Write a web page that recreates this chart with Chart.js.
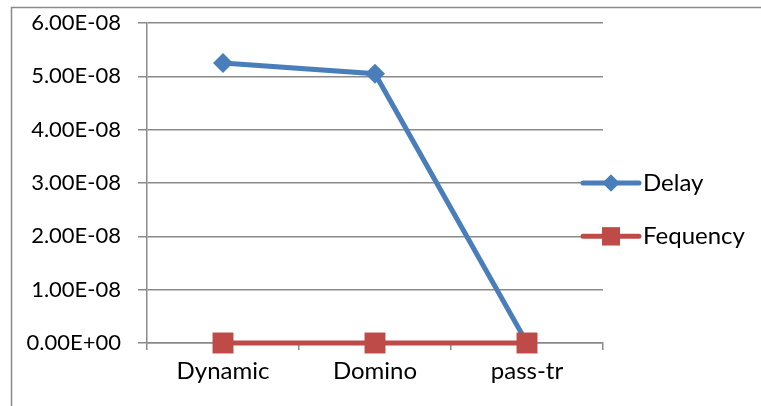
<!DOCTYPE html>
<html>
<head>
<meta charset="utf-8">
<script src="https://cdn.jsdelivr.net/npm/chart.js@4/dist/chart.umd.min.js"></script>
<style>
  html, body { margin: 0; padding: 0; background: #ffffff; }
  #wrap { width: 761px; height: 406px; position: relative; }
</style>
</head>
<body>
<div id="wrap"><canvas id="c" width="761" height="406"></canvas></div>
<script>
// Circuit styles compared
const categories = ['Dynamic', 'Domino', 'pass-tr'];
// Delay in seconds
const delayValues = [5.25e-8, 5.05e-8, 0];
// Frequency series (plotted on the same axis, sits on zero)
const frequencyValues = [0, 0, 0];
// Value-axis labels, bottom to top
const yTickLabels = ['0.00E+00', '1.00E-08', '2.00E-08', '3.00E-08', '4.00E-08', '5.00E-08', '6.00E-08'];
const seriesNames = ['Delay', 'Fequency'];

const FONT = 'Lato, "Open Sans", "Liberation Sans", sans-serif';
const GRID = '#8a8a8a';
const BLUE = '#4a7ebb';
const RED = '#be4b48';

// Frame lines around the chart object plus a line-and-marker legend
const framePlugin = {
  id: 'frame',
  beforeDraw(chart) {
    const ctx = chart.ctx;
    ctx.save();
    ctx.strokeStyle = GRID;
    ctx.lineWidth = 1.5;
    ctx.beginPath();
    ctx.moveTo(11.5, 406);
    ctx.lineTo(11.5, 7.5);
    ctx.lineTo(761, 7.5);
    ctx.stroke();
    ctx.restore();
  },
  afterDraw(chart) {
    const ctx = chart.ctx;
    const y = chart.scales.y;
    const rows = [y.getPixelForValue(3e-8), y.getPixelForValue(2e-8)];
    ctx.save();
    chart.data.datasets.forEach((ds, i) => {
      const cy = rows[i];
      const x0 = 583, x1 = 639, cx = (x0 + x1) / 2;
      ctx.strokeStyle = ds.borderColor;
      ctx.lineWidth = 5;
      ctx.lineCap = 'round';
      ctx.beginPath();
      ctx.moveTo(x0, cy);
      ctx.lineTo(x1, cy);
      ctx.stroke();
      ctx.fillStyle = ds.borderColor;
      Chart.helpers.drawPoint(ctx, {
        pointStyle: ds.pointStyle,
        radius: ds.pointStyle === 'rect' ? 12.7 : 8.5,
        rotation: 0,
        borderWidth: 0
      }, cx, cy);
      ctx.fill();
      ctx.fillStyle = '#000000';
      ctx.font = '24px ' + FONT;
      ctx.textBaseline = 'middle';
      ctx.textAlign = 'left';
      ctx.fillText(ds.label, 643, cy);
    });
    ctx.restore();
  }
};

new Chart(document.getElementById('c'), {
  type: 'line',
  data: {
    labels: categories,
    datasets: [
      {
        label: seriesNames[0],
        data: delayValues,
        borderColor: BLUE,
        backgroundColor: BLUE,
        borderWidth: 5,
        pointStyle: 'rectRot',
        pointRadius: 10,
        pointHoverRadius: 10,
        pointBorderWidth: 0,
        tension: 0,
        clip: false,
        order: 2
      },
      {
        label: seriesNames[1],
        data: frequencyValues,
        borderColor: RED,
        backgroundColor: RED,
        borderWidth: 5,
        pointStyle: 'rect',
        pointRadius: 14.8,
        pointHoverRadius: 14.8,
        pointBorderWidth: 0,
        tension: 0,
        clip: false,
        order: 1
      }
    ]
  },
  options: {
    responsive: false,
    animation: false,
    layout: { padding: { top: 23, right: 158, left: 0, bottom: 0 } },
    plugins: {
      legend: { display: false },
      tooltip: { enabled: false }
    },
    scales: {
      x: {
        offset: true,
        grid: {
          offset: true,
          drawOnChartArea: false,
          drawTicks: true,
          tickLength: 7,
          color: GRID,
          lineWidth: 1.5
        },
        border: { color: GRID, width: 1.5 },
        ticks: {
          color: '#000000',
          font: { family: FONT, size: 24 },
          padding: 7,
          maxRotation: 0
        },
        afterFit(scale) {
          scale.height = 63;
          scale.paddingLeft = 0;
          scale.paddingRight = 0;
        }
      },
      y: {
        min: 0,
        max: 6e-8,
        ticks: {
          stepSize: 1e-8,
          color: '#000000',
          font: { family: FONT, size: 22 },
          padding: 17,
          callback: (v, i) => yTickLabels[i]
        },
        grid: {
          color: GRID,
          lineWidth: 1.5,
          tickLength: 9
        },
        border: { color: GRID, width: 1.5 },
        afterFit(scale) {
          scale.width = 147;
          scale.paddingTop = 0;
          scale.paddingBottom = 0;
        }
      }
    }
  },
  plugins: [framePlugin]
});
</script>
</body>
</html>
